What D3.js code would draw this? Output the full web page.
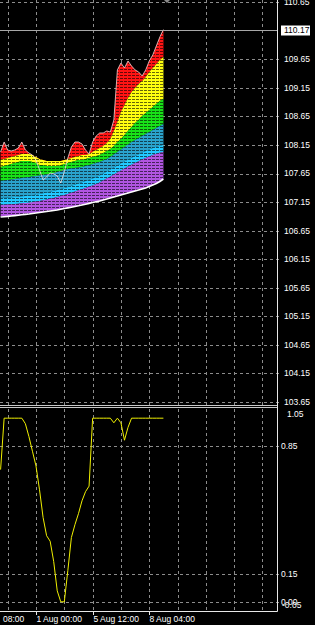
<!DOCTYPE html>
<html><head><meta charset="utf-8">
<script src="https://cdn.jsdelivr.net/npm/d3@7"></script>
<style>html,body{margin:0;padding:0;background:#000;overflow:hidden}</style>
</head><body>
<svg id="c" width="315" height="625"></svg>
<script>
// ---- data (H4 bars, index 0..46) ----
const fastMA = [108.027,108.202,108.062,108.044,108.062,108.097,108.202,108.062,108.009,107.974,
  107.887,107.712,107.537,107.589,107.659,107.642,107.607,107.484,107.677,107.922,
  108.115,108.202,108.202,108.167,108.062,107.992,108.202,108.307,108.360,108.360,
  108.395,108.377,108.587,109.464,109.586,109.498,109.621,109.534,109.464,109.428,
  109.358,109.464,109.621,109.726,109.883,110.041,110.170];
const redYellowMA = [107.887,107.904,107.922,107.939,107.957,107.974,107.992,107.992,107.992,107.974,
  107.939,107.904,107.887,107.869,107.869,107.869,107.869,107.869,107.887,107.904,
  107.922,107.939,107.957,107.974,107.974,107.992,108.027,108.062,108.097,108.132,
  108.185,108.255,108.395,108.552,108.727,108.850,108.973,109.078,109.148,109.218,
  109.270,109.340,109.428,109.498,109.568,109.638,109.690];
const yellowGreenMA = [107.764,107.782,107.799,107.817,107.834,107.852,107.869,107.869,107.869,107.852,
  107.834,107.799,107.799,107.782,107.782,107.782,107.782,107.799,107.817,107.834,
  107.852,107.869,107.887,107.887,107.904,107.922,107.939,107.957,107.974,108.009,
  108.044,108.079,108.132,108.202,108.255,108.325,108.395,108.465,108.535,108.587,
  108.657,108.710,108.762,108.815,108.867,108.920,108.955];
const greenTealMA = [107.519,107.528,107.537,107.545,107.554,107.563,107.572,107.580,107.589,107.598,
  107.607,107.616,107.624,107.633,107.642,107.659,107.677,107.694,107.712,107.729,
  107.738,107.747,107.756,107.764,107.782,107.799,107.817,107.834,107.852,107.878,
  107.904,107.939,107.983,108.027,108.071,108.115,108.158,108.202,108.237,108.272,
  108.307,108.342,108.377,108.412,108.447,108.482,108.517];
const tealCyanMA = [107.222,107.225,107.230,107.234,107.239,107.244,107.250,107.255,107.260,107.271,
  107.281,107.292,107.304,107.318,107.332,107.346,107.360,107.379,107.397,107.414,
  107.435,107.456,107.477,107.498,107.519,107.540,107.563,107.589,107.616,107.651,
  107.686,107.721,107.756,107.791,107.826,107.861,107.896,107.927,107.957,107.987,
  108.016,108.044,108.071,108.097,108.118,108.136,108.150];
const cyanPurpleMA = [107.099,107.102,107.108,107.113,107.116,107.122,107.127,107.132,107.137,107.148,
  107.158,107.169,107.181,107.195,107.209,107.223,107.237,107.257,107.274,107.292,
  107.313,107.334,107.355,107.376,107.397,107.418,107.440,107.467,107.493,107.528,
  107.563,107.598,107.633,107.668,107.703,107.738,107.773,107.805,107.834,107.864,
  107.894,107.922,107.948,107.974,107.995,108.013,108.027];
const slowMA = [106.889,106.894,106.899,106.906,106.913,106.920,106.927,106.934,106.941,106.950,
  106.959,106.968,106.976,106.985,106.994,107.003,107.011,107.024,107.036,107.048,
  107.060,107.073,107.085,107.099,107.113,107.127,107.141,107.155,107.169,107.187,
  107.204,107.222,107.239,107.257,107.274,107.292,107.309,107.327,107.344,107.362,
  107.379,107.397,107.423,107.449,107.475,107.510,107.554];
const oscillator = [0.72,1.0,1.0,1.0,1.0,1.0,1.0,0.97,0.90,0.82,
  0.74,0.61,0.46,0.36,0.33,0.22,0.06,0.0,0.0,0.17,
  0.35,0.42,0.48,0.55,0.60,0.63,1.0,1.0,1.0,1.0,
  1.0,1.0,0.975,1.0,0.975,0.88,0.95,1.0,1.0,1.0,
  1.0,1.0,1.0,1.0,1.0,1.0,1.0];
const priceTicks = [103.65,104.15,104.65,105.15,105.65,106.15,106.65,107.15,107.65,108.15,108.65,109.15,109.65,110.65];
const currentPrice = 110.17;
const oscLevels = [0.85,0.15,0.00];
const oscTopLabel = "1.05", oscBottomLabel = "-0.05";
const timeTickIndex = [10,26,42];
const timeTickLabels = ["1 Aug 00:00","5 Aug 12:00","8 Aug 04:00"];
const leftTimeLabel = "08:00";
const bandColors = ["#ff1414","#ffff10","#18e018","#2aa2cc","#22c8ff","#b055e0"];

// ---- layout ----
const svg = d3.select("#c");
const W = 315, plotR = 277.5;
const mainTop = 0, mainBot = 405, oscTop = 409, oscBot = 611;
const x = d3.scaleLinear().domain([0,46]).range([0.6,163.4]);
const y = d3.scaleLinear().domain([103.596,110.6885]).range([mainBot,mainTop]);
const yo = d3.scaleLinear().domain([-0.05,1.05]).range([oscBot,oscTop]);
const FONT = "'Liberation Sans', Arial, sans-serif";

svg.append("rect").attr("width",W).attr("height",625).attr("fill","#000");
const defs = svg.append("defs");
const pat = defs.append("pattern").attr("id","hatch").attr("patternUnits","userSpaceOnUse")
  .attr("width",4).attr("height",3);
pat.append("rect").attr("x",0).attr("y",0).attr("width",3).attr("height",1).attr("fill","#000");
defs.append("clipPath").attr("id","mainClip").append("rect").attr("x",0).attr("y",mainTop).attr("width",plotR).attr("height",mainBot-mainTop);
defs.append("clipPath").attr("id","oscClip").append("rect").attr("x",0).attr("y",oscTop).attr("width",plotR).attr("height",oscBot-oscTop);

// ---- grid ----
const gridColor = "#8c8c8c";
const vIdx = d3.range(2, 80, 8);
const grid = svg.append("g").attr("stroke",gridColor).attr("stroke-width",1).attr("stroke-dasharray","3,3").attr("fill","none");
vIdx.forEach(i => {
  const gx = Math.round(x(i)) + 0.5;
  if (gx < plotR) {
    grid.append("line").attr("x1",gx).attr("x2",gx).attr("y1",mainTop).attr("y2",mainBot);
    grid.append("line").attr("x1",gx).attr("x2",gx).attr("y1",oscTop).attr("y2",oscBot);
  }
});
priceTicks.forEach(p => {
  const gy = Math.round(y(p)) + 0.5;
  grid.append("line").attr("x1",0).attr("x2",282).attr("y1",gy).attr("y2",gy);
});
oscLevels.forEach(v => {
  const gy = Math.round(yo(v)) + 0.5;
  grid.append("line").attr("x1",0).attr("x2",281).attr("y1",gy).attr("y2",gy);
});

// ---- ribbon ----
const series = [fastMA, redYellowMA, yellowGreenMA, greenTealMA, tealCyanMA, cyanPurpleMA, slowMA];
const rib = svg.append("g").attr("clip-path","url(#mainClip)");
for (let b = 0; b < 6; b++) {
  const top = series[b], bot = series[b+1];
  const area = d3.area().x((d,i)=>x(i)).y0((d,i)=>y(bot[i])).y1((d,i)=>y(top[i]));
  rib.append("path").attr("d", area(top)).attr("fill", bandColors[b]);
  rib.append("path").attr("d", area(top)).attr("fill", "url(#hatch)").attr("opacity",0.6);
}
const line = arr => d3.line().x((d,i)=>x(i)).y(d=>y(d))(arr);
rib.append("path").attr("d", line(fastMA)).attr("fill","none").attr("stroke","#f4e0e0").attr("stroke-width",0.9).attr("opacity",0.85);
rib.append("path").attr("d", line(slowMA)).attr("fill","none").attr("stroke","#ffffff").attr("stroke-width",1.6);

// current price line
const cpY = Math.round(y(currentPrice)) + 0.5;
svg.append("line").attr("x1",0).attr("x2",plotR).attr("y1",cpY).attr("y2",cpY).attr("stroke","#a8a8a8").attr("stroke-width",1);

// chart-shift marker
svg.append("path").attr("d","M164,0 L170,0 L167,3 Z").attr("fill","#8a8a8a");

// ---- oscillator ----
svg.append("g").attr("clip-path","url(#oscClip)").append("path")
  .attr("d", d3.line().x((d,i)=>x(i)).y(d=>yo(d))(oscillator))
  .attr("fill","none").attr("stroke","#f0f000").attr("stroke-width",1);

// ---- frames ----
svg.append("line").attr("x1",0).attr("x2",plotR).attr("y1",405.5).attr("y2",405.5).attr("stroke","#c8c8c8");
svg.append("line").attr("x1",0).attr("x2",plotR).attr("y1",407.5).attr("y2",407.5).attr("stroke","#c8c8c8");
svg.append("line").attr("x1",plotR).attr("x2",plotR).attr("y1",0).attr("y2",oscBot+0.5).attr("stroke","#e8e8e8");
svg.append("line").attr("x1",0).attr("x2",plotR).attr("y1",oscBot+0.5).attr("y2",oscBot+0.5).attr("stroke","#e8e8e8");

// ---- price axis labels ----
const lab = svg.append("g").attr("font-family",FONT).attr("font-size","8.5px").attr("fill","#ffffff");
priceTicks.forEach(p => {
  lab.append("text").attr("x",284).attr("y",y(p)).attr("dy","0.35em").text(p.toFixed(2));
});
svg.append("rect").attr("x",281).attr("y",cpY-5).attr("width",29).attr("height",10).attr("fill","#ffffff");
svg.append("text").attr("x",284).attr("y",cpY).attr("dy","0.35em").attr("font-family",FONT).attr("font-size","8.5px").attr("fill","#000").text(currentPrice.toFixed(2));

// ---- oscillator labels ----
lab.append("text").attr("x",287).attr("y",yo(1.05)+5.5).attr("dy","0.35em").text(oscTopLabel);
oscLevels.forEach(v => {
  lab.append("text").attr("x",281).attr("y",yo(v)).attr("dy","0.35em").text(v.toFixed(2));
});
lab.append("text").attr("x",282).attr("y",yo(-0.05)-6).attr("dy","0.35em").text(oscBottomLabel);

// ---- time axis ----
timeTickIndex.forEach((ti,k) => {
  const tx = Math.round(x(ti)) + 0.5;
  svg.append("line").attr("x1",tx).attr("x2",tx).attr("y1",oscBot).attr("y2",oscBot+4).attr("stroke","#e8e8e8");
  lab.append("text").attr("x",tx).attr("y",619).attr("dy","0.35em").text(timeTickLabels[k]);
});
lab.append("text").attr("x",3).attr("y",619).attr("dy","0.35em").text(leftTimeLabel);
</script>
</body></html>
